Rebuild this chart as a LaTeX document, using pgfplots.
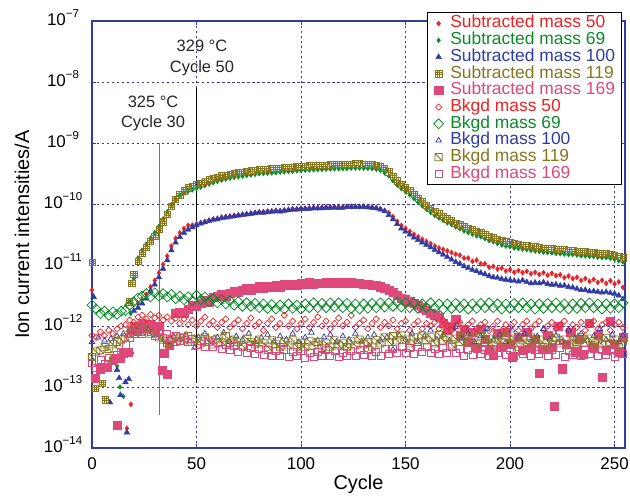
\documentclass[border=0pt]{standalone}
\usepackage{fontspec}
\setmainfont{Liberation Sans}
\usepackage{pgfplots}
\pgfplotsset{compat=1.18}
\usetikzlibrary{plotmarks}
\definecolor{cred}{RGB}{236,34,36}
\definecolor{cgreen}{RGB}{10,140,40}
\definecolor{cblue}{RGB}{48,60,165}
\definecolor{colive}{RGB}{135,118,30}
\definecolor{cpink}{RGB}{222,72,122}
\definecolor{cframe}{RGB}{50,60,160}
\newcommand\tickfont{\fontsize{17}{17}\selectfont}
\newcommand\labfont{\fontsize{20}{20}\selectfont}
\newcommand\legfont{\fontsize{17.5}{17.5}\selectfont}
\newcommand\annfont{\fontsize{16.5}{21}\selectfont}
\newcommand\E[1]{10\raisebox{8bp}{\fontsize{11.5}{11.5}\selectfont #1}}
\pgfdeclareplotmark{boxgrid}{%
  \pgfpathrectangle{\pgfqpoint{-\pgfplotmarksize}{-\pgfplotmarksize}}{\pgfqpoint{2\pgfplotmarksize}{2\pgfplotmarksize}}%
  \pgfpathmoveto{\pgfqpoint{-\pgfplotmarksize}{0.33\pgfplotmarksize}}\pgfpathlineto{\pgfqpoint{\pgfplotmarksize}{0.33\pgfplotmarksize}}%
  \pgfpathmoveto{\pgfqpoint{-\pgfplotmarksize}{-0.33\pgfplotmarksize}}\pgfpathlineto{\pgfqpoint{\pgfplotmarksize}{-0.33\pgfplotmarksize}}%
  \pgfpathmoveto{\pgfqpoint{0.33\pgfplotmarksize}{-\pgfplotmarksize}}\pgfpathlineto{\pgfqpoint{0.33\pgfplotmarksize}{\pgfplotmarksize}}%
  \pgfpathmoveto{\pgfqpoint{-0.33\pgfplotmarksize}{-\pgfplotmarksize}}\pgfpathlineto{\pgfqpoint{-0.33\pgfplotmarksize}{\pgfplotmarksize}}%
  \pgfusepathqstroke}
\pgfdeclareplotmark{boxslash}{%
  \pgfpathrectangle{\pgfqpoint{-\pgfplotmarksize}{-\pgfplotmarksize}}{\pgfqpoint{2\pgfplotmarksize}{2\pgfplotmarksize}}%
  \pgfpathmoveto{\pgfqpoint{-\pgfplotmarksize}{\pgfplotmarksize}}\pgfpathlineto{\pgfqpoint{\pgfplotmarksize}{-\pgfplotmarksize}}%
  \pgfusepathqstroke}
\begin{document}
\begin{tikzpicture}
\begin{axis}[
  name=ax, scale only axis, width=533bp, height=427bp,
  ymode=log, xmin=0, xmax=255, ymin=1e-14, ymax=1e-7,
  xtick={0,50,100,150,200,250}, xticklabels={0,50,100,150,200,250},
  ytick={1e-14,1e-13,1e-12,1e-11,1e-10,1e-9,1e-8,1e-7},
  yticklabels={\E{−14},\E{−13},\E{−12},\E{−11},\E{−10},\E{−9},\E{−8},\E{−7}},
  yminorticks=false, xminorticks=false,
  grid=major, major grid style={cframe, dash pattern=on 2.5bp off 2.5bp, line width=0.6bp},
  axis line style={cframe, line width=1.2bp},
  tick style={cframe, line width=0.8bp}, major tick length=4bp, tick align=inside,
  xticklabel style={font=\tickfont, anchor=center, yshift=-15.5bp},
  yticklabel style={font=\tickfont, anchor=mid, xshift=-29bp, yshift=-1.7bp},
  xlabel={Cycle}, ylabel={Ion current intensities/A},
  xlabel style={font=\labfont, at={(0.5,-0.0843)}, anchor=center},
  ylabel style={font=\labfont, at={(-0.1313,0.5)}, anchor=center},
  legend cell align=left,
  legend style={at={(0.99437,1.0211)}, anchor=north east, draw=black, line width=1.5bp,
    inner xsep=6bp, inner ysep=2.5bp, font=\legfont, row sep=0bp,
    nodes={inner sep=0.2bp, text height=12.5bp, text depth=3.8bp},
    /tikz/every odd column/.append style={column sep=6.5bp}},
  legend image code/.code={\draw[mark repeat=2,mark phase=2,#1] plot coordinates {(0bp,0bp)(4bp,0bp)(8bp,0bp)};},
]
% Subtracted mass 50
\addplot[only marks, mark=diamond*, mark size=2.6bp, color=cred, mark options={line width=0.4bp}] coordinates {
(0,3.9e-12)(16.7,2.1e-14)(18.6,5.2e-14)(19.2,3.6e-13)
(22,2.34e-12)(24,2.74e-12)(26,3.3e-12)(28,4.35e-12)(30,5.6e-12)(32,7.4e-12)(34,1.02e-11)(36,1.4e-11)(38,2.04e-11)(40,2.74e-11)
(42,3.37e-11)(44,3.97e-11)(46,4.45e-11)(48,4.5e-11)(50,4.7e-11)(52,4.95e-11)(54,5.15e-11)(56,5.4e-11)(58,5.65e-11)(60,5.8e-11)
(62,6.05e-11)(64,6.2e-11)(66,6.3e-11)(68,6.45e-11)(70,6.6e-11)(72,6.75e-11)(74,6.9e-11)(76,7.05e-11)(78,7.25e-11)(80,7.4e-11)
(82,7.45e-11)(84,7.6e-11)(86,7.7e-11)(88,7.8e-11)(90,7.75e-11)(92,7.95e-11)(94,8.1e-11)(96,8.3e-11)(98,8.3e-11)(100,8.5e-11)
(102,8.45e-11)(104,8.55e-11)(106,8.7e-11)(108,8.65e-11)(110,8.75e-11)(112,8.9e-11)(114,8.85e-11)(116,8.95e-11)(118,8.85e-11)(120,8.9e-11)
(122,9.1e-11)(124,9.05e-11)(126,9.1e-11)(128,9.05e-11)(130,9.1e-11)(132,9.0e-11)(134,8.85e-11)(136,8.7e-11)(138,8.35e-11)(140,7.85e-11)
(142,7.2e-11)(144,6.2e-11)(146,5.2e-11)(148,4.45e-11)(150,4.0e-11)(152,3.55e-11)(154,3.2e-11)(156,2.9e-11)(158,2.65e-11)(160,2.45e-11)
(162,2.25e-11)(164,2.05e-11)(166,1.9e-11)(168,1.8e-11)(170,1.7e-11)(172,1.6e-11)(174,1.5e-11)(176,1.45e-11)(178,1.3e-11)(180,1.3e-11)
(182,1.15e-11)(184,1.2e-11)(186,1.05e-11)(188,1.05e-11)(190,9.2e-12)(192,9.5e-12)(194,8.6e-12)(196,8.9e-12)(198,8.0e-12)(200,8.4e-12)
(202,7.6e-12)(204,8.1e-12)(206,7.5e-12)(208,7.9e-12)(210,7.2e-12)(212,7.6e-12)(214,7.0e-12)(216,7.5e-12)(218,6.8e-12)(220,7.3e-12)
(222,6.7e-12)(224,6.9e-12)(226,6.2e-12)(228,6.6e-12)(230,6.0e-12)(232,6.3e-12)(234,5.6e-12)(236,6.0e-12)(238,5.4e-12)(240,5.8e-12)
(242,5.2e-12)(244,5.6e-12)(246,5.0e-12)(248,5.5e-12)(250,4.9e-12)(252,5.3e-12)(254,4.3e-12)};
\addlegendentry{\textcolor{cred}{Subtracted mass 50}}
% Subtracted mass 69
\addplot[only marks, mark=diamond*, mark size=2.4bp, color=cgreen, mark options={line width=0.4bp}] coordinates {
(12,2.2e-13)(13.4,1.0e-13)(15,7e-14)(18.5,1.6e-12)
(20,6e-12)(22,1.3e-11)(24,1.75e-11)(26,2.2e-11)(28,2.75e-11)(30,3.4e-11)(32,4.3e-11)(34,5.7e-11)(36,7.5e-11)(38,9.8e-11)
(40,1.2e-10)(42,1.38e-10)(44,1.52e-10)(46,1.62e-10)(48,1.7e-10)(50,1.8e-10)(52,1.88e-10)(54,2.0e-10)(56,2.12e-10)(58,2.23e-10)
(60,2.34e-10)(62,2.46e-10)(64,2.55e-10)(66,2.64e-10)(68,2.72e-10)(70,2.79e-10)(72,2.86e-10)(74,2.92e-10)(76,2.99e-10)(78,3.06e-10)
(80,3.13e-10)(82,3.16e-10)(84,3.2e-10)(86,3.23e-10)(88,3.27e-10)(90,3.32e-10)(92,3.36e-10)(94,3.4e-10)(96,3.43e-10)(98,3.48e-10)
(100,3.54e-10)(102,3.57e-10)(104,3.6e-10)(106,3.63e-10)(108,3.66e-10)(110,3.68e-10)(112,3.71e-10)(114,3.74e-10)(116,3.76e-10)(118,3.77e-10)
(120,3.8e-10)(122,3.82e-10)(124,3.87e-10)(126,3.88e-10)(128,3.88e-10)(130,3.87e-10)(132,3.84e-10)(134,3.8e-10)(136,3.71e-10)(138,3.54e-10)
(140,3.23e-10)(142,2.88e-10)(144,2.4e-10)(146,2.04e-10)(148,1.78e-10)(150,1.58e-10)(152,1.41e-10)(154,1.23e-10)(156,1.07e-10)(158,9.35e-11)
(160,8.1e-11)(162,7.2e-11)(164,6.5e-11)(166,5.9e-11)(168,5.4e-11)(170,4.9e-11)(172,4.6e-11)(174,4.2e-11)(176,3.9e-11)(178,3.6e-11)
(180,3.4e-11)(182,3.2e-11)(184,3.0e-11)(186,2.9e-11)(188,2.7e-11)(190,2.5e-11)(192,2.4e-11)(194,2.24e-11)(196,2.13e-11)(198,2.04e-11)
(200,1.99e-11)(202,1.9e-11)(204,1.86e-11)(206,1.82e-11)(208,1.78e-11)(210,1.73e-11)(212,1.69e-11)(214,1.66e-11)(216,1.62e-11)(218,1.6e-11)
(220,1.58e-11)(222,1.55e-11)(224,1.53e-11)(226,1.51e-11)(228,1.48e-11)(230,1.48e-11)(232,1.45e-11)(234,1.41e-11)(236,1.41e-11)(238,1.38e-11)
(240,1.38e-11)(242,1.34e-11)(244,1.32e-11)(246,1.32e-11)(248,1.28e-11)(250,1.23e-11)(252,1.17e-11)(254,1.12e-11)};
\addlegendentry{\textcolor{cgreen}{Subtracted mass 69}}
% Subtracted mass 100
\addplot[only marks, mark=triangle*, mark size=3.3bp, color=cblue, mark options={line width=0.4bp}] coordinates {
(0.8,3.0e-12)(8.6,5.6e-14)(12,1.9e-13)(13,1.4e-13)(13.6,7.4e-14)(16,1.2e-13)(16.7,1.8e-14)(17.6,1.35e-13)
(20,1.78e-12)(22,2.0e-12)(24,2.34e-12)(26,2.82e-12)(28,3.72e-12)(30,4.79e-12)(32,6.31e-12)(34,8.71e-12)(36,1.2e-11)(38,1.74e-11)
(40,2.34e-11)(42,2.88e-11)(44,3.39e-11)(46,3.8e-11)(48,4.17e-11)(50,4.47e-11)(52,4.79e-11)(54,5.01e-11)(56,5.25e-11)(58,5.5e-11)
(60,5.62e-11)(62,5.89e-11)(64,6.03e-11)(66,6.17e-11)(68,6.31e-11)(70,6.46e-11)(72,6.61e-11)(74,6.76e-11)(76,6.92e-11)(78,7.08e-11)
(80,7.24e-11)(82,7.2e-11)(84,7.41e-11)(86,7.45e-11)(88,7.59e-11)(90,7.55e-11)(92,7.76e-11)(94,7.94e-11)(96,8.13e-11)(98,8.1e-11)
(100,8.32e-11)(102,8.3e-11)(104,8.35e-11)(106,8.51e-11)(108,8.5e-11)(110,8.55e-11)(112,8.71e-11)(114,8.7e-11)(116,8.75e-11)(118,8.7e-11)
(120,8.72e-11)(122,8.91e-11)(124,8.9e-11)(126,8.95e-11)(128,8.9e-11)(130,8.92e-11)(132,8.88e-11)(134,8.71e-11)(136,8.51e-11)(138,8.13e-11)
(140,7.59e-11)(142,6.61e-11)(144,5.62e-11)(146,4.68e-11)(148,3.98e-11)(150,3.55e-11)(152,3.16e-11)(154,2.82e-11)(156,2.57e-11)(158,2.34e-11)
(160,2.14e-11)(162,1.95e-11)(164,1.78e-11)(166,1.62e-11)(168,1.48e-11)(170,1.35e-11)(172,1.23e-11)(174,1.12e-11)(176,1.05e-11)(178,9.55e-12)
(180,8.91e-12)(182,8.32e-12)(184,7.94e-12)(186,7.41e-12)(188,7.08e-12)(190,6.61e-12)(192,6.31e-12)(194,6.17e-12)(196,5.89e-12)(198,5.75e-12)
(200,5.62e-12)(202,5.5e-12)(204,5.37e-12)(206,5.6e-12)(208,5.25e-12)(210,5.0e-12)(212,5.13e-12)(214,5.01e-12)(216,5.2e-12)(218,4.9e-12)
(220,4.75e-12)(222,4.79e-12)(224,4.57e-12)(226,4.6e-12)(228,4.37e-12)(230,4.27e-12)(232,4.07e-12)(234,3.89e-12)(236,3.9e-12)(238,3.7e-12)
(240,3.72e-12)(242,3.63e-12)(244,3.55e-12)(246,3.6e-12)(248,3.47e-12)(250,3.39e-12)(252,3.16e-12)(254,2.75e-12)};
\addlegendentry{\textcolor{cblue}{Subtracted mass 100}}
% Subtracted mass 119
\addplot[only marks, mark=boxgrid, mark size=3.1bp, color=colive, mark options={line width=0.5bp}] coordinates {
(0,1.1e-11)(1.6,9.5e-14)(4.8,1.17e-13)(6.4,6.2e-14)(10,2.8e-13)(18,2.5e-12)(19,5e-12)
(20,7e-12)(22,1.15e-11)(24,1.55e-11)(26,1.95e-11)(28,2.45e-11)(30,3.0e-11)(32,3.8e-11)(34,5.1e-11)(36,6.8e-11)(38,9.2e-11)
(40,1.2e-10)(42,1.42e-10)(44,1.65e-10)(46,1.85e-10)(48,1.98e-10)(50,2.1e-10)(52,2.2e-10)(54,2.35e-10)(56,2.5e-10)(58,2.62e-10)
(60,2.75e-10)(62,2.9e-10)(64,3.0e-10)(66,3.1e-10)(68,3.2e-10)(70,3.28e-10)(72,3.36e-10)(74,3.44e-10)(76,3.52e-10)(78,3.6e-10)
(80,3.68e-10)(82,3.72e-10)(84,3.76e-10)(86,3.8e-10)(88,3.85e-10)(90,3.9e-10)(92,3.95e-10)(94,4.0e-10)(96,4.04e-10)(98,4.1e-10)
(100,4.17e-10)(102,4.2e-10)(104,4.24e-10)(106,4.27e-10)(108,4.3e-10)(110,4.33e-10)(112,4.37e-10)(114,4.4e-10)(116,4.42e-10)(118,4.44e-10)
(120,4.47e-10)(122,4.5e-10)(124,4.55e-10)(126,4.57e-10)(128,4.57e-10)(130,4.55e-10)(132,4.52e-10)(134,4.47e-10)(136,4.37e-10)(138,4.17e-10)
(140,3.8e-10)(142,3.39e-10)(144,2.82e-10)(146,2.4e-10)(148,2.09e-10)(150,1.86e-10)(152,1.66e-10)(154,1.45e-10)(156,1.26e-10)(158,1.1e-10)
(160,9.5e-11)(162,8.5e-11)(164,7.6e-11)(166,6.9e-11)(168,6.3e-11)(170,5.75e-11)(172,5.4e-11)(174,4.9e-11)(176,4.57e-11)(178,4.27e-11)
(180,4.0e-11)(182,3.8e-11)(184,3.55e-11)(186,3.4e-11)(188,3.16e-11)(190,2.95e-11)(192,2.82e-11)(194,2.63e-11)(196,2.51e-11)(198,2.4e-11)
(200,2.34e-11)(202,2.24e-11)(204,2.19e-11)(206,2.14e-11)(208,2.09e-11)(210,2.04e-11)(212,1.99e-11)(214,1.95e-11)(216,1.91e-11)(218,1.88e-11)
(220,1.86e-11)(222,1.82e-11)(224,1.8e-11)(226,1.78e-11)(228,1.74e-11)(230,1.74e-11)(232,1.7e-11)(234,1.66e-11)(236,1.66e-11)(238,1.62e-11)
(240,1.62e-11)(242,1.58e-11)(244,1.55e-11)(246,1.55e-11)(248,1.51e-11)(250,1.45e-11)(252,1.38e-11)(254,1.32e-11)};
\addlegendentry{\textcolor{colive}{Subtracted mass 119}}
% Subtracted mass 169
\addplot[only marks, mark=square*, mark size=4.1bp, color=cpink, mark options={line width=0.4bp}] coordinates {
(1.6,1.4e-13)(4,2.0e-13)(7,2.1e-13)(11,3.0e-13)(12,2.4e-14)(13.5,3.0e-13)(15,3.6e-13)(17.5,3.7e-13)
(19,8.5e-13)(20,1.0e-12)(22,9.0e-13)(24,1.1e-12)(26,9.5e-13)(28,1.05e-12)(30,8.8e-13)(32,1.0e-12)
(33.6,1.9e-13)(34.6,3.6e-13)(36,1.6e-13)(37,4.9e-13)
(40,1.6e-12)(42,1.7e-12)(44,1.6e-12)(46,1.9e-12)(48,2.2e-12)(50,2.1e-12)(52,2.4e-12)(54,2.6e-12)(56,2.5e-12)(58,3.0e-12)
(60,3.1e-12)(62,3.3e-12)(64,3.1e-12)(66,3.5e-12)(68,3.7e-12)(70,3.6e-12)(72,3.9e-12)(74,4.1e-12)(76,3.9e-12)(78,4.2e-12)
(80,4.4e-12)(82,4.2e-12)(84,4.5e-12)(86,4.3e-12)(88,4.6e-12)(90,4.4e-12)(92,4.8e-12)(94,4.6e-12)(96,4.9e-12)(98,4.7e-12)
(100,5.0e-12)(102,4.8e-12)(104,5.2e-12)(106,4.9e-12)(108,5.1e-12)(110,5.0e-12)(112,5.3e-12)(114,5.0e-12)(116,5.2e-12)(118,5.1e-12)
(120,5.3e-12)(122,5.0e-12)(124,5.2e-12)(126,5.0e-12)(128,5.1e-12)(130,4.8e-12)(132,4.9e-12)(134,4.6e-12)(136,4.7e-12)(138,4.4e-12)
(140,4.2e-12)(142,3.9e-12)(144,3.6e-12)(146,3.2e-12)(148,2.9e-12)(150,2.7e-12)(152,2.5e-12)(154,2.4e-12)(156,2.2e-12)(158,2.0e-12)
(160,1.8e-12)(162,1.6e-12)(164,1.5e-12)(166,1.4e-12)(168,1.1e-12)(170,8.5e-13)(172,1.0e-12)(174,1.3e-12)(176,7e-13)(178,9e-13)
(180,5.5e-13)(182,8e-13)(184,4.5e-13)(186,9e-13)(188,6e-13)(190,4e-13)(192,3.3e-13)(194,7.5e-13)(196,4.5e-13)(198,8e-13)
(200,5e-13)(201,3.1e-13)(204,6.5e-13)(206,4e-13)(208,8e-13)(210,4.5e-13)(212,6e-13)(214,1.7e-13)(216,4.2e-13)(218,7e-13)
(220,4.5e-13)(221,4.9e-14)(223,1.0e-12)(225,2.0e-13)(227,5e-13)(229,8e-13)(231,3.8e-13)(233,6e-13)(235,3.5e-13)(238,1.1e-12)
(240,4.5e-13)(242,7e-13)(244,1.45e-13)(246,4e-13)(248,1.2e-12)(250,5e-13)(252,3.8e-13)(254,6.5e-13)};
\addlegendentry{\textcolor{cpink}{Subtracted mass 169}}
% Bkgd mass 50
\addplot[only marks, mark=square, mark size=2.2bp, color=cred, mark options={rotate=45, line width=0.7bp}] coordinates {
(0,7e-13)(2,6.5e-13)(4,8e-13)(6,7e-13)(8,8.5e-13)(10,7.5e-13)(12,9e-13)(14,1.0e-12)(16,1.05e-12)(18,1.25e-12)
(20,1.15e-12)(22,1.4e-12)(24,1.5e-12)(26,1.3e-12)(28,1.55e-12)(30,1.35e-12)(32,1.5e-12)(34,1.25e-12)(36,1.4e-12)(38,1.2e-12)
(40,1.35e-12)(42,1.1e-12)(44,1.3e-12)(46,1.05e-12)(48,1.25e-12)(50,1.0e-12)(52,1.2e-12)(54,1.4e-12)(56,1.05e-12)(58,1.2e-12)
(60,9.5e-13)(62,1.15e-12)(64,1.3e-12)(66,9.5e-13)(68,1.1e-12)(70,1.25e-12)(72,9e-13)(74,1.1e-12)(76,1.35e-12)(78,1.0e-12)
(80,1.15e-12)(82,8.5e-13)(84,1.1e-12)(86,1.3e-12)(88,9.5e-13)(90,1.1e-12)(92,1.5e-12)(94,1.0e-12)(96,1.2e-12)(98,9e-13)
(100,1.1e-12)(102,1.3e-12)(104,9.5e-13)(106,1.15e-12)(108,1.4e-12)(110,1.0e-12)(112,1.2e-12)(114,9e-13)(116,1.1e-12)(118,1.35e-12)
(120,1.0e-12)(122,1.15e-12)(124,1.5e-12)(126,9.5e-13)(128,1.1e-12)(130,1.25e-12)(132,9e-13)(134,1.1e-12)(136,1.3e-12)(138,9.5e-13)
(140,1.15e-12)(142,1.0e-12)(144,1.25e-12)(146,9e-13)(148,1.1e-12)(150,1.2e-12)(152,8.5e-13)(154,1.05e-12)(156,1.2e-12)(158,9e-13)
(160,1.1e-12)(162,1.0e-12)(164,1.15e-12)(166,9e-13)(168,1.25e-12)(170,1.0e-12)(172,8.5e-13)(174,1.0e-12)(176,1.15e-12)(178,9e-13)
(180,1.05e-12)(182,1.2e-12)(184,9e-13)(186,1.05e-12)(188,1.15e-12)(190,8.5e-13)(192,1.0e-12)(194,1.2e-12)(196,8.5e-13)(198,1.05e-12)
(200,9.5e-13)(202,1.15e-12)(204,8.5e-13)(206,1.05e-12)(208,1.2e-12)(210,9e-13)(212,1.05e-12)(214,1.2e-12)(216,8.5e-13)(218,1.0e-12)
(220,1.15e-12)(222,9e-13)(224,1.05e-12)(226,1.2e-12)(228,8.5e-13)(230,1.05e-12)(232,9.5e-13)(234,1.15e-12)(236,8.5e-13)(238,1.05e-12)
(240,1.2e-12)(242,9e-13)(244,1.05e-12)(246,1.15e-12)(248,8.5e-13)(250,1.05e-12)(252,1.15e-12)(254,9.5e-13)};
\addlegendentry{\textcolor{cred}{Bkgd mass 50}}
% Bkgd mass 69
\addplot[only marks, mark=square, mark size=3.5bp, color=cgreen, mark options={rotate=45, line width=0.8bp}] coordinates {
(0,2.2e-12)(2,1.9e-12)(4,1.6e-12)(6,1.75e-12)(8,1.5e-12)(10,1.7e-12)(12,1.55e-12)(14,1.75e-12)(16,1.8e-12)(18,2.2e-12)
(20,2.5e-12)(22,2.9e-12)(24,3.1e-12)(26,3.4e-12)(28,3.0e-12)(30,3.5e-12)(32,3.1e-12)(34,3.4e-12)(36,3.0e-12)(38,3.3e-12)
(40,2.8e-12)(42,3.1e-12)(44,2.7e-12)(46,3.0e-12)(48,2.6e-12)(50,3.2e-12)(52,2.7e-12)(54,3.0e-12)(56,2.5e-12)(58,2.8e-12)
(60,2.4e-12)(62,2.7e-12)(64,2.3e-12)(66,2.6e-12)(68,2.2e-12)(70,2.5e-12)(72,2.1e-12)(74,2.4e-12)(76,2.1e-12)(78,2.35e-12)
(80,2.0e-12)(82,2.3e-12)(84,1.95e-12)(86,2.25e-12)(88,1.9e-12)(90,2.2e-12)(92,1.9e-12)(94,2.3e-12)(96,1.95e-12)(98,2.2e-12)
(100,1.9e-12)(102,2.3e-12)(104,2.0e-12)(106,2.4e-12)(108,2.0e-12)(110,2.35e-12)(112,2.0e-12)(114,2.4e-12)(116,2.05e-12)(118,2.4e-12)
(120,2.0e-12)(122,2.35e-12)(124,1.95e-12)(126,2.3e-12)(128,1.9e-12)(130,2.3e-12)(132,1.95e-12)(134,2.35e-12)(136,2.0e-12)(138,2.4e-12)
(140,2.05e-12)(142,2.4e-12)(144,2.1e-12)(146,2.45e-12)(148,2.05e-12)(150,2.4e-12)(152,2.0e-12)(154,2.35e-12)(156,1.95e-12)(158,2.3e-12)
(160,2.0e-12)(162,2.4e-12)(164,2.0e-12)(166,2.3e-12)(168,1.9e-12)(170,2.3e-12)(172,1.95e-12)(174,2.35e-12)(176,2.0e-12)(178,2.3e-12)
(180,1.9e-12)(182,2.3e-12)(184,1.95e-12)(186,2.35e-12)(188,2.0e-12)(190,2.4e-12)(192,2.0e-12)(194,2.3e-12)(196,1.9e-12)(198,2.3e-12)
(200,1.95e-12)(202,2.35e-12)(204,2.0e-12)(206,2.4e-12)(208,2.0e-12)(210,2.3e-12)(212,1.9e-12)(214,2.3e-12)(216,1.95e-12)(218,2.35e-12)
(220,2.0e-12)(222,2.4e-12)(224,2.0e-12)(226,2.3e-12)(228,1.9e-12)(230,2.3e-12)(232,1.95e-12)(234,2.35e-12)(236,2.0e-12)(238,2.4e-12)
(240,2.0e-12)(242,2.3e-12)(244,1.9e-12)(246,2.3e-12)(248,1.95e-12)(250,2.3e-12)(252,2.0e-12)(254,2.4e-12)};
\addlegendentry{\textcolor{cgreen}{Bkgd mass 69}}
% Bkgd mass 100
\addplot[only marks, mark=triangle, mark size=3.2bp, color=cblue, mark options={line width=0.7bp}] coordinates {
(0,5.5e-13)(3,6.5e-13)(6,5.8e-13)(9,6.2e-13)(12,6.8e-13)(15,7.5e-13)(18,7e-13)(21,8.5e-13)(24,7.5e-13)(27,8.8e-13)
(30,7e-13)(33,6.5e-13)(36,5.5e-13)(39,6.8e-13)(42,6e-13)(45,7.2e-13)(49,4.4e-13)(51,6.5e-13)(54,7.5e-13)(57,5.8e-13)
(60,6.5e-13)(63,7.8e-13)(66,5.5e-13)(69,6.8e-13)(72,6e-13)(75,7.5e-13)(78,5.5e-13)(81,6.5e-13)(84,7.2e-13)(87,5.6e-13)
(90,6.8e-13)(93,6e-13)(96,7.5e-13)(99,5.5e-13)(102,6.5e-13)(105,7.8e-13)(108,5.8e-13)(111,6.6e-13)(114,7.2e-13)(117,5.5e-13)
(120,6.8e-13)(123,6e-13)(126,7.5e-13)(129,5.6e-13)(132,6.5e-13)(135,7.2e-13)(138,5.8e-13)(141,6.5e-13)(144,4.1e-13)(147,7e-13)
(150,6e-13)(153,7.5e-13)(156,5.5e-13)(159,6.8e-13)(162,8.5e-13)(165,6e-13)(168,7.2e-13)(171,5.8e-13)(174,9.5e-13)(177,6.2e-13)
(180,7.5e-13)(183,5.5e-13)(186,6.8e-13)(189,9e-13)(192,6e-13)(195,7.2e-13)(198,5.5e-13)(201,8.5e-13)(204,6.5e-13)(207,7.5e-13)
(210,5.8e-13)(213,6.8e-13)(216,9e-13)(219,6e-13)(222,7e-13)(225,5.5e-13)(228,8.5e-13)(231,6.2e-13)(234,7.5e-13)(237,5.8e-13)
(240,6.8e-13)(243,9e-13)(246,6e-13)(249,7.2e-13)(252,5.5e-13)(254,7e-13)};
\addlegendentry{\textcolor{cblue}{Bkgd mass 100}}
% Bkgd mass 119
\addplot[only marks, mark=boxslash, mark size=3.6bp, color=colive, mark options={line width=0.8bp}] coordinates {
(0,3.1e-13)(2,3.8e-13)(4,4.0e-13)(6,4.5e-13)(8,4.2e-13)(10,5.0e-13)(12,5.5e-13)(14,6.0e-13)(16,6.5e-13)(18,7.5e-13)
(20,8.5e-13)(22,8e-13)(24,9.5e-13)(26,8.5e-13)(28,7.5e-13)(30,8e-13)(32,6.5e-13)(34,6e-13)(36,5.2e-13)(38,6.2e-13)
(40,5.5e-13)(42,6.5e-13)(44,5.8e-13)(46,6.8e-13)(48,5.5e-13)(50,6.2e-13)(52,5.2e-13)(54,6.5e-13)(56,5.8e-13)(58,5e-13)
(60,6.2e-13)(62,5.5e-13)(64,6.8e-13)(66,5.2e-13)(68,6e-13)(70,5.5e-13)(72,4.8e-13)(74,6.2e-13)(76,5.5e-13)(78,5e-13)
(80,6e-13)(82,5.2e-13)(84,4.6e-13)(86,5.8e-13)(88,5e-13)(90,4.5e-13)(92,5.5e-13)(94,4.8e-13)(96,5.8e-13)(98,4.6e-13)
(100,5.2e-13)(102,4.5e-13)(104,5.6e-13)(106,4.8e-13)(108,5.5e-13)(110,4.4e-13)(112,5.2e-13)(114,4.6e-13)(116,5.8e-13)(118,4.8e-13)
(120,5.2e-13)(122,4.5e-13)(124,5.6e-13)(126,4.8e-13)(128,6e-13)(130,5e-13)(132,5.5e-13)(134,4.6e-13)(136,5.8e-13)(138,5.2e-13)
(140,6.5e-13)(142,5.5e-13)(144,6.8e-13)(146,5.8e-13)(148,7e-13)(150,6e-13)(152,5.2e-13)(154,6.5e-13)(156,5.5e-13)(158,7e-13)
(160,5.8e-13)(162,6.5e-13)(164,5.2e-13)(166,7.2e-13)(168,5.8e-13)(170,6.6e-13)(172,5e-13)(174,6.2e-13)(176,5.5e-13)(178,7e-13)
(180,5.6e-13)(182,6.4e-13)(184,5e-13)(186,6.8e-13)(188,5.5e-13)(190,6.2e-13)(192,4.8e-13)(194,6e-13)(196,5.4e-13)(198,6.8e-13)
(200,5.2e-13)(202,6.2e-13)(204,4.6e-13)(206,5.8e-13)(208,5.2e-13)(210,6.5e-13)(212,5e-13)(214,6e-13)(216,4.5e-13)(218,5.6e-13)
(220,5e-13)(222,6.4e-13)(224,5.2e-13)(226,6e-13)(228,4.8e-13)(230,5.8e-13)(232,5.2e-13)(234,6.6e-13)(236,5.4e-13)(238,6.2e-13)
(240,4.8e-13)(242,5.8e-13)(244,5e-13)(246,6.4e-13)(248,5.2e-13)(250,6e-13)(252,4.6e-13)(254,5.6e-13)};
\addlegendentry{\textcolor{colive}{Bkgd mass 119}}
% Bkgd mass 169
\addplot[only marks, mark=square, mark size=3.5bp, color=cpink, mark options={line width=0.7bp}] coordinates {
(0,2.5e-13)(2,2.1e-13)(4,2.8e-13)(6,2.4e-13)(8,3e-13)(10,2.7e-13)(12,3.4e-13)(14,3.8e-13)(16,5e-13)(18,6.5e-13)
(20,7.5e-13)(22,8.5e-13)(24,7.5e-13)(26,9e-13)(28,8e-13)(30,7e-13)(32,8e-13)(34,6.5e-13)(36,7.5e-13)(38,6.2e-13)
(40,7e-13)(42,5.8e-13)(44,6.5e-13)(46,5.5e-13)(48,6.2e-13)(50,5e-13)(52,5.8e-13)(54,4.6e-13)(56,5.4e-13)(58,4.5e-13)
(60,5.2e-13)(62,4.2e-13)(64,5e-13)(66,4e-13)(68,4.8e-13)(70,3.8e-13)(72,4.5e-13)(74,3.6e-13)(76,4.4e-13)(78,3.5e-13)
(80,4.2e-13)(82,3.4e-13)(84,4e-13)(86,3.2e-13)(88,3.9e-13)(90,3.3e-13)(92,4e-13)(94,3.1e-13)(96,3.8e-13)(98,3.2e-13)
(100,3.9e-13)(102,3e-13)(104,3.7e-13)(106,3.1e-13)(108,3.8e-13)(110,3.2e-13)(112,4e-13)(114,3.3e-13)(116,3.9e-13)(118,3.1e-13)
(120,3.7e-13)(122,3.2e-13)(124,3.9e-13)(126,3.3e-13)(128,4.1e-13)(130,3.4e-13)(132,4e-13)(134,3.2e-13)(136,3.8e-13)(138,3.3e-13)
(140,4.2e-13)(142,3.5e-13)(144,4.3e-13)(146,3.6e-13)(148,4.5e-13)(150,3.7e-13)(152,4.4e-13)(154,3.5e-13)(156,4.6e-13)(158,3.8e-13)
(160,4.5e-13)(162,3.6e-13)(164,4.3e-13)(166,3.5e-13)(168,4.4e-13)(170,3.7e-13)(172,4.6e-13)(174,3.6e-13)(176,4.2e-13)(178,3.2e-13)
(180,4e-13)(182,3.4e-13)(184,4.3e-13)(186,3.5e-13)(188,4.1e-13)(190,3.3e-13)(192,4.2e-13)(194,3.6e-13)(196,4.4e-13)(198,3.4e-13)
(200,4e-13)(202,3.2e-13)(204,4.1e-13)(206,3.5e-13)(208,4.3e-13)(210,3.3e-13)(212,4e-13)(214,3.5e-13)(216,4.2e-13)(218,3.3e-13)
(220,4e-13)(222,3.4e-13)(224,4.4e-13)(226,3.1e-13)(228,3.9e-13)(230,3.4e-13)(232,4.2e-13)(234,3.2e-13)(236,4e-13)(238,3.5e-13)
(240,4.3e-13)(242,3.3e-13)(244,4e-13)(246,3.4e-13)(248,4.2e-13)(250,3.1e-13)(252,3.9e-13)(254,3.5e-13)};
\addlegendentry{\textcolor{cpink}{Bkgd mass 169}}
% annotation lines
\addplot[forget plot, mark=none, color=black!55, line width=1.1bp] coordinates {(32.5,1e-9)(32.5,3.5e-14)};
\addplot[forget plot, mark=none, color=black, line width=0.9bp] coordinates {(49.8,7.97e-9)(49.8,1.17e-13)};
\node[font=\annfont, align=center, text=black!85] at (axis cs:52.6,2.52e-8) {329 °C\\Cycle 50};
\node[font=\annfont, align=center, text=black!85] at (axis cs:29.2,3.05e-9) {325 °C\\Cycle 30};
\end{axis}
\pgfresetboundingbox
\path ([shift={(-92bp,-48bp)}]ax.south west) rectangle ([shift={(5bp,21bp)}]ax.north east);
\end{tikzpicture}
\end{document}
